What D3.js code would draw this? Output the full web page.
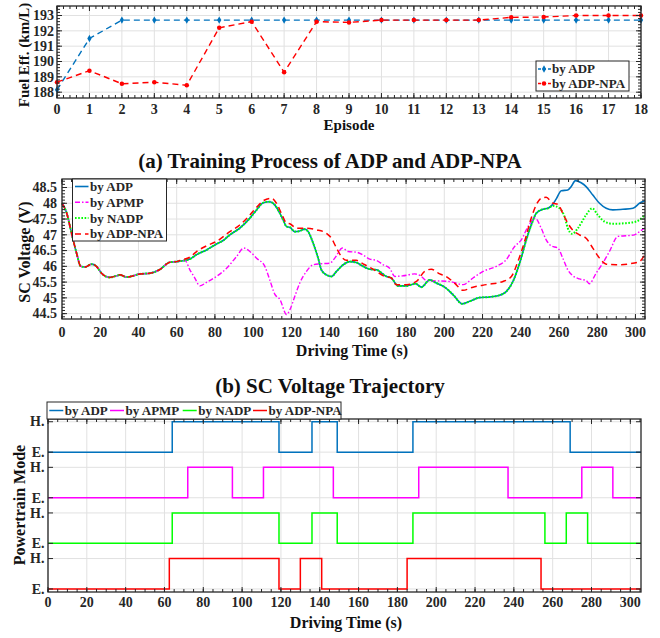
<!DOCTYPE html>
<html><head><meta charset="utf-8">
<script src="https://cdn.jsdelivr.net/npm/d3@7"></script>
<style>
body{margin:0;background:#fff}
text{font-family:"Liberation Serif","Times New Roman",serif;font-weight:bold;fill:#262626}
</style>
</head><body><svg id="c" width="660" height="638" style="background:#fff"></svg>
<script>
// ---------------- DATA ----------------
// (a) training process
const episodes = [0,1,2,3,4,5,6,7,8,9,10,11,12,13,14,15,16,17,18];
const effADP = [188.15,191.5,192.7,192.7,192.7,192.7,192.7,192.7,192.7,192.7,192.7,192.7,192.7,192.7,192.7,192.7,192.7,192.7,192.7];
const effNPA = [188.65,189.4,188.55,188.65,188.45,192.2,192.6,189.3,192.6,192.55,192.7,192.7,192.7,192.7,192.88,192.9,193.0,193.0,193.0];
const effYTicks = [188,189,190,191,192,193];

// (b) SC voltage trajectory [time s, voltage V]
const voltShared = [[0,48.0],[2.4,47.7],[5,47.05],[7.7,46.4],[9.8,46.0],[12,45.98],[15.5,46.07],[18,46.0],[20.7,45.78],[25,45.65],[28.6,45.7],[30.3,45.73],[33.8,45.66],[37.3,45.7],[40.8,45.76],[46,45.78],[51.2,45.9],[56.4,46.13],[60,46.15]];
const voltAdpNadpShared = [[63.4,46.18],[66.9,46.23],[70.4,46.37],[75.6,46.52],[80.8,46.71],[84.3,46.82],[87.8,47.0],[93,47.21],[98.3,47.53],[101.8,47.79],[105.3,48.02],[108.7,48.05],[111.3,47.95],[114,47.68],[115.7,47.47],[117.5,47.26],[119.2,47.24],[121.8,47.1],[124.4,47.12],[127,47.18],[128.8,47.1],[131.4,46.73],[134,46.26],[135.7,45.89],[138.3,45.73],[141,45.68],[143.6,45.84],[147.1,46.05],[150.6,46.15],[154,46.12],[157.5,46.0],[161,45.91],[164.5,45.89],[169.7,45.68],[172.3,45.63],[175.8,45.38],[180.2,45.38],[185,45.45],[188,45.34],[192.4,45.57],[195.8,45.47],[200.2,45.34],[204.6,45.1],[209.4,44.81],[213.3,44.89],[218.5,45.01],[223.7,45.03],[228.1,45.07],[232.4,45.2],[235.9,45.52],[239.4,46.1],[242.9,46.84],[245.5,47.31],[248.1,47.68],[251.6,47.81],[254.2,47.84]];
const voltADPTail = [[256.5,47.95],[258.5,48.13],[261.2,48.4],[264.6,48.42],[266.4,48.53],[268.6,48.72],[271.6,48.65],[274.2,48.53],[277.7,48.26],[281.2,48.0],[284.7,47.84],[288.2,47.79],[293.4,47.81],[298.7,47.84],[302.1,48.0],[305,48.08]];
const voltNADPTail = [[256.8,47.92],[260.3,47.84],[262.9,47.58],[264.6,47.21],[266.9,47.03],[269.9,47.21],[274.2,47.63],[277.4,47.84],[280.3,47.63],[283.8,47.42],[288.2,47.35],[295.1,47.37],[300.4,47.42],[305,47.63]];
const voltAPMPTail = [[64.3,46.19],[66.9,45.89],[69.5,45.63],[72.1,45.38],[75.6,45.49],[80.8,45.68],[86.1,45.94],[91.3,46.31],[95.1,46.58],[98.3,46.47],[101.8,46.26],[106.1,46.0],[108.7,45.57],[111.3,45.12],[114,44.95],[117.5,44.47],[119.2,44.62],[121.8,45.05],[124.4,45.47],[127.9,45.84],[131.4,46.05],[134.9,46.08],[140.1,46.1],[142.7,46.26],[146.7,46.58],[149.7,46.47],[154,46.45],[157.5,46.36],[161,46.23],[164.5,46.19],[168,46.05],[171.4,45.94],[174.1,45.68],[178.4,45.7],[184.5,45.76],[188,45.68],[190.6,45.55],[195.8,45.54],[202.8,45.52],[209.8,45.42],[215,45.63],[220.3,45.84],[227.2,46.0],[232.4,46.21],[236.8,46.63],[240.3,46.84],[243.8,47.26],[247.5,47.53],[250.7,47.21],[253.3,46.84],[255.9,46.65],[259.4,46.58],[262,46.26],[264.6,45.89],[267.3,45.7],[270.7,45.6],[274.2,45.55],[275.9,45.45],[279.4,45.78],[282.9,46.1],[286.4,46.47],[290.8,46.95],[295.1,46.97],[299.5,47.0],[303,47.14],[305,47.21]];
const voltNPATail = [[61.7,46.19],[66.9,46.29],[70.4,46.47],[75.6,46.65],[80.8,46.79],[87.8,47.1],[93,47.31],[98.3,47.63],[101.8,47.87],[105.3,48.08],[109.6,48.16],[112.2,48.0],[114.8,47.68],[117.5,47.37],[119.2,47.35],[122.7,47.21],[127.9,47.21],[133.1,47.16],[138.3,47.05],[141,46.89],[143.6,46.58],[146.2,46.31],[148.8,46.19],[154,46.19],[157.5,46.08],[162.7,45.91],[168.8,45.68],[172.3,45.63],[174.9,45.42],[180.2,45.42],[185.4,45.52],[189.7,45.84],[193.2,45.91],[197.6,45.76],[200.2,45.7],[205.4,45.47],[209.8,45.24],[215,45.34],[222,45.42],[230.7,45.52],[235.1,45.68],[238.5,46.15],[242,46.79],[245.5,47.53],[248.1,47.95],[250.7,48.16],[253.3,48.19],[256.8,48.0],[259.4,47.97],[262,47.68],[264.6,47.37],[267.3,47.14],[270.7,47.0],[274.2,46.89],[277.7,46.58],[281.2,46.26],[284.7,46.07],[289.9,46.05],[296.9,46.08],[302.1,46.15],[304.5,46.33]];
const voltYTicks = [44.5,45,45.5,46,46.5,47,47.5,48,48.5];
const timeTicks = [0,20,40,60,80,100,120,140,160,180,200,220,240,260,280,300];

// (c) powertrain mode: switching times and modes
const adpSwitch  = [0,64,119,136,149,188,269];
const adpModes   = ['E','H','E','H','E','H','E'];
const apmpSwitch = [0,72,95,111,147,191,237,275,291];
const apmpModes  = ['E','H','E','H','E','H','E','H','E'];
const nadpSwitch = [0,64,119,136,149,188,256,267,278];
const nadpModes  = ['E','H','E','H','E','H','E','H','E'];
const npaSwitch  = [0,62.5,119,130,141,185,254];
const npaModes   = ['E','H','E','H','E','H','E'];
const modeTickLabels = ['E.','H.','E.','H.','E.','H.','E.','H.'];

// ---------------- DRAWING ----------------
const svg = d3.select('#c');
const AX = '#262626', GRID = '#e1e1e1';
const C_BLUE = '#0072BD', C_RED = '#FF0000', C_MAG = '#FF00FF', C_GRN = '#00FF00';

function grid(x, y, xs, ys) {
  const g = svg.append('g');
  const [x0,x1] = x.range(), [y0,y1] = y.range();
  g.selectAll('.gx').data(xs).join('line').attr('x1',d=>x(d)).attr('x2',d=>x(d)).attr('y1',y1).attr('y2',y0).attr('stroke',GRID);
  g.selectAll('.gy').data(ys).join('line').attr('y1',d=>y(d)).attr('y2',d=>y(d)).attr('x1',x0).attr('x2',x1).attr('stroke',GRID);
}
function frame(x, y, xMaj, xMin, yMaj, yMin) {
  const g = svg.append('g');
  const [x0,x1] = x.range(), [y0,y1] = y.range();
  const tl = 5, tm = 3;
  const tick = (arr, len, horiz) => {
    arr.forEach(v => {
      if (horiz) {
        const px = x(v);
        g.append('line').attr('x1',px).attr('x2',px).attr('y1',y0).attr('y2',y0-len).attr('stroke',AX);
        g.append('line').attr('x1',px).attr('x2',px).attr('y1',y1).attr('y2',y1+len).attr('stroke',AX);
      } else {
        const py = y(v);
        g.append('line').attr('y1',py).attr('y2',py).attr('x1',x0).attr('x2',x0+len).attr('stroke',AX);
        g.append('line').attr('y1',py).attr('y2',py).attr('x1',x1).attr('x2',x1-len).attr('stroke',AX);
      }
    });
  };
  tick(xMin, tm, true); tick(xMaj, tl, true); tick(yMin, tm, false); tick(yMaj, tl, false);
  g.append('rect').attr('x',x0).attr('y',y1).attr('width',x1-x0).attr('height',y0-y1)
    .attr('fill','none').attr('stroke',AX).attr('stroke-width',1.3);
}
function xLabels(x, ticks, yb, fmt, fs) {
  svg.append('g').selectAll('text').data(ticks).join('text')
    .attr('x',d=>x(d)).attr('y',yb).attr('text-anchor','middle').style('font-size',fs+'px').text(fmt);
}
function yLabels(y, ticks, xr, fmt, fs) {
  svg.append('g').selectAll('text').data(ticks).join('text')
    .attr('x',xr).attr('y',d=>y(d)).attr('dy','0.34em').attr('text-anchor','end').style('font-size',fs+'px').text(fmt);
}
function rotLabel(txt, cx, cy, fs) {
  svg.append('text').attr('transform',`translate(${cx},${cy}) rotate(-90)`).attr('text-anchor','middle')
    .attr('dy','0.35em').style('font-size',fs+'px').style('fill','#111').text(txt);
}
function hLabel(txt, cx, yb, fs) {
  svg.append('text').attr('x',cx).attr('y',yb).attr('text-anchor','middle').style('font-size',fs+'px').style('fill','#111').text(txt);
}
const minorRange = (a,b,s) => d3.range(a, b+1e-9, s);

// ===== (a) =====
{
  const x = d3.scaleLinear().domain([0,18]).range([57,641]);
  const y = d3.scaleLinear().domain([187.62,193.62]).range([98,6]);
  grid(x, y, episodes, effYTicks);
  const line = d3.line().x((d,i)=>x(episodes[i])).y(d=>y(d));
  svg.append('path').datum(effADP).attr('d',line).attr('fill','none').attr('stroke',C_BLUE).attr('stroke-width',1.4).attr('stroke-dasharray','6,4');
  svg.append('path').datum(effNPA).attr('d',line).attr('fill','none').attr('stroke',C_RED).attr('stroke-width',1.4).attr('stroke-dasharray','6,4');
  svg.append('g').selectAll('path').data(effADP).join('path')
    .attr('transform',(d,i)=>`translate(${x(episodes[i])},${y(d)})`)
    .attr('d',d3.symbol(d3.symbolDiamond,16)()).attr('fill',C_BLUE);
  svg.append('g').selectAll('path').data(effNPA).join('path')
    .attr('transform',(d,i)=>`translate(${x(episodes[i])},${y(d)})`)
    .attr('d',d3.symbol(d3.symbolCircle,16)()).attr('fill',C_RED);
  frame(x, y, episodes, minorRange(0,18,0.2), effYTicks, minorRange(187.8,193.6,0.2));
  xLabels(x, episodes, 114, d=>d, 14);
  yLabels(y, effYTicks, 54, d=>d, 14);
  rotLabel('Fuel Eff. (km/L)', 24, 55, 15);
  hLabel('Episode', 349, 130, 15);
  // legend
  const lg = svg.append('g');
  lg.append('rect').attr('x',536).attr('y',61).attr('width',93).attr('height',30).attr('fill','#fff').attr('stroke',AX);
  [[C_BLUE,'by ADP',d3.symbolDiamond,16],[C_RED,'by ADP-NPA',d3.symbolCircle,16]].forEach((e,i)=>{
    const yy = 69 + i*14.5;
    lg.append('line').attr('x1',538).attr('x2',551).attr('y1',yy).attr('y2',yy).attr('stroke',e[0]).attr('stroke-width',1.4).attr('stroke-dasharray','3,2');
    lg.append('path').attr('transform',`translate(544,${yy})`).attr('d',d3.symbol(e[2],e[3])()).attr('fill',e[0]);
    lg.append('text').attr('x',552).attr('y',yy).attr('dy','0.34em').style('font-size','13px').text(e[1]);
  });
  hLabel('(a) Training Process of ADP and ADP-NPA', 330, 168, 21);
}

// ===== (b) =====
{
  const x = d3.scaleLinear().domain([0,305]).range([62,645]);
  const y = d3.scaleLinear().domain([44.33,48.77]).range([319,179]);
  grid(x, y, timeTicks, voltYTicks);
  const line = d3.line().x(d=>x(d[0])).y(d=>y(d[1])).curve(d3.curveMonotoneX);
  const sADP = voltShared.concat(voltAdpNadpShared, voltADPTail);
  const sNADP = voltShared.concat(voltAdpNadpShared, voltNADPTail);
  const sAPMP = voltShared.concat(voltAPMPTail);
  const sNPA = voltShared.concat(voltNPATail);
  const series = [
    {d:sADP, c:C_BLUE, w:1.6, da:null},
    {d:sAPMP, c:C_MAG, w:1.4, da:'5,2,1.5,2'},
    {d:sNADP, c:C_GRN, w:2, da:'1.6,1.6'},
    {d:sNPA, c:C_RED, w:1.5, da:'6,4'}
  ];
  series.forEach(s=>{
    svg.append('path').datum(s.d).attr('d',line).attr('fill','none').attr('stroke',s.c).attr('stroke-width',s.w)
      .attr('stroke-dasharray',s.da);
  });
  frame(x, y, timeTicks, minorRange(0,305,5), voltYTicks, minorRange(44.4,48.7,0.1));
  xLabels(x, timeTicks, 337, d=>d, 14);
  yLabels(y, voltYTicks, 57, d=>d, 14);
  rotLabel('SC Voltage (V)', 24, 252, 16);
  hLabel('Driving Time (s)', 352, 356, 16);
  const lg = svg.append('g');
  lg.append('rect').attr('x',72.5).attr('y',179).attr('width',94).attr('height',62).attr('fill','#fff').attr('stroke',AX);
  [['by ADP',C_BLUE,1.6,null],['by APMP',C_MAG,1.4,'5,2,1.5,2'],['by NADP',C_GRN,2,'1.6,1.6'],['by ADP-NPA',C_RED,1.5,'6,4']].forEach((e,i)=>{
    const yy = 186.5 + i*15.8;
    lg.append('line').attr('x1',75).attr('x2',88.5).attr('y1',yy).attr('y2',yy).attr('stroke',e[1]).attr('stroke-width',e[2]).attr('stroke-dasharray',e[3]);
    lg.append('text').attr('x',90).attr('y',yy).attr('dy','0.34em').style('font-size','13px').text(e[0]);
  });
  hLabel('(b) SC Voltage Trajectory', 330, 393, 21);
}

// ===== (c) =====
{
  const x = d3.scaleLinear().domain([0,305.5]).range([48,641]);
  const y = d3.scaleLinear().domain([-0.2,11.18]).range([592,419]);
  const rowBase = {adp:9, apmp:6, nadp:3, npa:0};
  const modeVal = {E:0, H:2};
  const yTicks = [0,2,3,5,6,8,9,11];
  grid(x, y, timeTicks, yTicks);
  const line = d3.line().x(d=>x(d[0])).y(d=>y(d[1])).curve(d3.curveStepAfter);
  const mk = (sw, md, base) => {
    const pts = sw.map((t,i)=>[t, base + modeVal[md[i]]]);
    pts.push([305.5, base + modeVal[md[md.length-1]]]);
    return pts;
  };
  [[adpSwitch,adpModes,rowBase.adp,C_BLUE],[apmpSwitch,apmpModes,rowBase.apmp,C_MAG],
   [nadpSwitch,nadpModes,rowBase.nadp,C_GRN],[npaSwitch,npaModes,rowBase.npa,C_RED]].forEach(s=>{
    svg.append('path').datum(mk(s[0],s[1],s[2])).attr('d',line).attr('fill','none').attr('stroke',s[3]).attr('stroke-width',1.5);
  });
  frame(x, y, timeTicks, minorRange(0,305,5), yTicks, []);
  xLabels(x, timeTicks, 607, d=>d, 14);
  yLabels(y, yTicks, 44.5, (d,i)=>modeTickLabels[i], 14);
  rotLabel('Powertrain Mode', 19, 505, 16);
  hLabel('Driving Time (s)', 346, 628, 16);
  const lg = svg.append('g');
  lg.append('rect').attr('x',47).attr('y',402).attr('width',294).attr('height',17).attr('fill','#fff').attr('stroke',AX);
  [['by ADP',C_BLUE,49.3],['by APMP',C_MAG,110],['by NADP',C_GRN,182.7],['by ADP-NPA',C_RED,253]].forEach(e=>{
    lg.append('line').attr('x1',e[2]).attr('x2',e[2]+14).attr('y1',410.5).attr('y2',410.5).attr('stroke',e[1]).attr('stroke-width',1.5);
    lg.append('text').attr('x',e[2]+15.5).attr('y',410.5).attr('dy','0.34em').style('font-size','13px').text(e[0]);
  });
}
</script>
</body></html>
